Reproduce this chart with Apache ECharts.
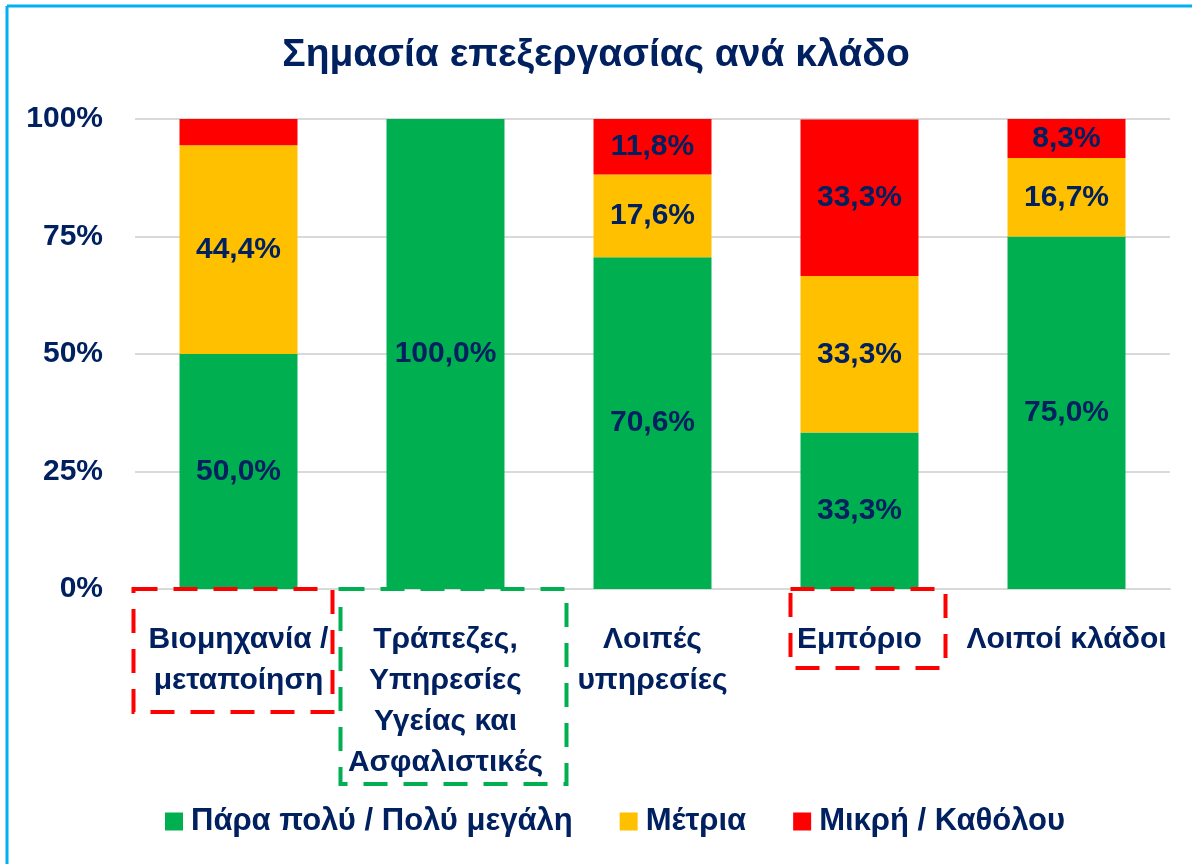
<!DOCTYPE html>
<html>
<head>
<meta charset="utf-8">
<script src="https://cdn.jsdelivr.net/npm/echarts@6/dist/echarts.min.js"></script>
<style>
  html, body { margin: 0; padding: 0; background: #fff; }
  #chart { width: 1192px; height: 864px; }
</style>
</head>
<body>
<div id="chart"></div>
<script>
// δεδομένα
var categories = ['Βιομηχανία /\nμεταποίηση', 'Τράπεζες,\nΥπηρεσίες\nΥγείας και\nΑσφαλιστικές', 'Λοιπές\nυπηρεσίες', 'Εμπόριο', 'Λοιποί κλάδοι'];
var seriesNames = ['Πάρα πολύ / Πολύ μεγάλη', 'Μέτρια', 'Μικρή / Καθόλου'];
var veryHigh = [50.0, 100.0, 70.6, 33.3, 75.0];
var medium = [44.4, 0, 17.6, 33.3, 16.7];
var low = [5.6, 0, 11.8, 33.3, 8.3];
var yTicks = [0, 25, 50, 75, 100];

var navy = '#002060';
var font = "'Liberation Sans', Arial, sans-serif";
var colors = ['#00B050', '#FFC000', '#FF0000'];

var myChart = echarts.init(document.getElementById('chart'));

function makeSeries(name, data, color) {
    return {
        name: name,
        type: 'bar',
        stack: 'total',
        data: data,
        barCategoryGap: '43%',
        itemStyle: { color: color },
        label: {
            show: true,
            position: 'inside',
            color: navy,
            fontFamily: font,
            fontWeight: 'bold',
            fontSize: 30,
            formatter: function (p) {
                // μικρά τμήματα χωρίς ετικέτα
                if (p.value < 7) return '';
                return p.value.toFixed(1).replace('.', ',') + '%';
            }
        }
    };
}

var option = {
    backgroundColor: '#fff',
    color: colors,
    title: {
        text: 'Σημασία επεξεργασίας ανά κλάδο',
        left: 'center',
        top: 31,
        textStyle: { color: navy, fontFamily: font, fontWeight: 'bold', fontSize: 39 }
    },
    legend: {
        bottom: 22,
        left: 160,
        itemWidth: 18,
        itemHeight: 18,
        itemGap: 47,
        icon: 'rect',
        data: seriesNames,
        textStyle: { color: navy, fontFamily: font, fontWeight: 'bold', fontSize: 31, padding: [0, 0, 0, 3] }
    },
    grid: { left: 135, right: 22, top: 119, bottom: 275 },
    xAxis: {
        type: 'category',
        data: categories,
        axisLine: { lineStyle: { color: '#D9D9D9', width: 2 } },
        axisTick: { show: false },
        axisLabel: {
            interval: 0,
            margin: 30,
            color: navy,
            fontFamily: font,
            fontWeight: 'bold',
            fontSize: 30,
            lineHeight: 41
        }
    },
    yAxis: {
        type: 'value',
        min: yTicks[0],
        max: yTicks[yTicks.length - 1],
        interval: 25,
        axisLine: { show: false },
        axisTick: { show: false },
        splitLine: { lineStyle: { color: '#D9D9D9', width: 2 } },
        axisLabel: {
            margin: 32,
            color: navy,
            fontFamily: font,
            fontWeight: 'bold',
            fontSize: 30,
            formatter: '{value}%'
        }
    },
    series: [
        makeSeries(seriesNames[0], veryHigh, colors[0]),
        makeSeries(seriesNames[1], medium, colors[1]),
        makeSeries(seriesNames[2], low, colors[2])
    ]
};

myChart.setOption(option, true);

// πλαίσιο και διακεκομμένα κουτιά γύρω από τις ετικέτες
function dashedBox(idx, dl, dr, h, color) {
    var cx = myChart.convertToPixel({ xAxisIndex: 0 }, idx);
    var y0 = myChart.convertToPixel({ yAxisIndex: 0 }, 0);
    return {
        type: 'rect',
        z: 10,
        shape: { x: cx - dl, y: y0, width: dl + dr, height: h },
        style: { fill: 'none', stroke: color, lineWidth: 4, lineDash: [24, 16] }
    };
}

myChart.setOption({
    graphic: [
        { type: 'line', shape: { x1: 7, y1: 6, x2: 1192, y2: 6 }, style: { stroke: '#00B0F0', lineWidth: 3 } },
        { type: 'line', shape: { x1: 7, y1: 6, x2: 7, y2: 864 }, style: { stroke: '#00B0F0', lineWidth: 3 } },
        dashedBox(0, 105, 94, 123, '#FF0000'),
        dashedBox(1, 105, 121, 195, '#00B050'),
        dashedBox(3, 69, 86, 79, '#FF0000')
    ]
});

window.addEventListener('resize', function () {
    myChart.resize();
});
</script>
</body>
</html>
